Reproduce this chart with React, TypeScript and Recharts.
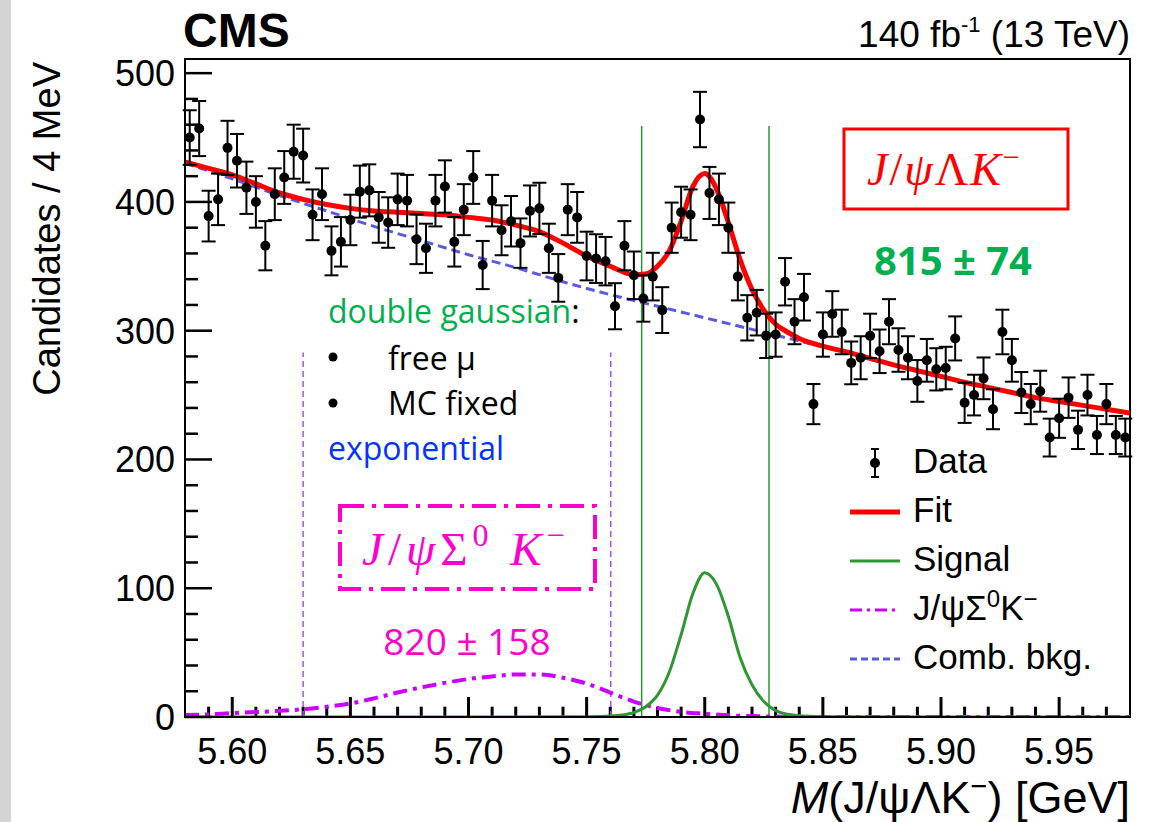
import React from 'react';
import {
  ComposedChart,
  Line,
  Scatter,
  ErrorBar,
  XAxis,
  YAxis,
  ReferenceLine,
  ReferenceArea,
  Legend,
  Customized,
} from 'recharts';

// histogram: 100 bins of 4 MeV from 5.58 GeV
const binLow = 5.58;
const binWidth = 0.004;
const counts = [
  450, 457, 389, 402, 442, 432, 411, 400, 366, 406,
  419, 439, 436, 390, 406, 362, 369, 386, 408, 409,
  388, 384, 402, 401, 371, 364, 401, 412, 369, 394,
  419, 351, 401, 378, 385, 368, 393, 395, 364, 341,
  394, 388, 358, 356, 354, 319, 366, 343, 325, 342,
  316, 380, 392, 390, 464, 407, 402, 380, 342, 310,
  314, 296, 297, 338, 307, 326, 243, 297, 313, 299,
  275, 279, 296, 284, 307, 285, 279, 261, 277, 270,
  271, 294, 244, 250, 263, 239, 299, 277, 252, 243,
  253, 217, 232, 248, 223, 250, 219, 243, 219, 217,
];
const errors = [
  21.2, 21.4, 19.7, 20.0, 21.0, 20.8, 20.3, 20.0, 19.1, 20.1,
  20.5, 21.0, 20.9, 19.7, 20.1, 19.0, 19.2, 19.6, 20.2, 20.2,
  19.7, 19.6, 20.0, 20.0, 19.3, 19.1, 20.0, 20.3, 19.2, 19.8,
  20.5, 18.7, 20.0, 19.4, 19.6, 19.2, 19.8, 19.9, 19.1, 18.5,
  19.8, 19.7, 18.9, 18.9, 18.8, 17.9, 19.1, 18.5, 18.0, 18.5,
  17.8, 19.5, 19.8, 19.7, 21.5, 20.2, 20.0, 19.5, 18.5, 17.6,
  17.7, 17.2, 17.2, 18.4, 17.5, 18.1, 15.6, 17.2, 17.7, 17.3,
  16.6, 16.7, 17.2, 16.9, 17.5, 16.9, 16.7, 16.2, 16.6, 16.4,
  16.5, 17.1, 15.6, 15.8, 16.2, 15.5, 17.3, 16.6, 15.9, 15.6,
  15.9, 14.7, 15.2, 15.7, 14.9, 15.8, 14.8, 15.6, 14.8, 14.7,
];

// total fit
const fitMass = [
  5.58, 5.59, 5.6, 5.61, 5.62, 5.63, 5.64, 5.65, 5.66, 5.67, 5.68, 5.69, 5.7, 5.71, 5.72, 5.73,
  5.74, 5.75, 5.76, 5.765, 5.77, 5.775, 5.78, 5.785, 5.79, 5.795, 5.8, 5.805, 5.81, 5.815, 5.82,
  5.825, 5.83, 5.835, 5.84, 5.85, 5.86, 5.87, 5.88, 5.89, 5.9, 5.91, 5.92, 5.93, 5.94, 5.95,
  5.96, 5.97, 5.98,
];
const fitValues = [
  431, 426, 421, 414, 407, 402, 398, 395, 393, 392, 391, 390, 388, 386, 382, 377,
  368, 358, 350, 346, 343.5, 344, 350, 362, 385, 412, 422, 410, 384, 355, 332,
  316, 305, 299, 294, 288, 283.5, 278.5, 273.5, 269, 264.5, 260, 256, 252, 248, 245,
  242, 239, 236,
];

// signal (double gaussian)
const sigMass = [
  5.58, 5.7, 5.74, 5.75, 5.76, 5.765, 5.77, 5.775, 5.78, 5.785, 5.79, 5.795, 5.8,
  5.805, 5.81, 5.815, 5.82, 5.825, 5.83, 5.835, 5.84, 5.85, 5.86, 5.9, 5.98,
];
const sigValues = [
  0, 0, 0.1, 0.2, 0.7, 1.5, 3.5, 8, 17, 35, 64, 96, 112,
  103, 78, 46, 25, 12, 5, 2.2, 1, 0.3, 0.1, 0, 0,
];

// J/psi Sigma0 K- partially reconstructed
const partMass = [
  5.58, 5.59, 5.6, 5.61, 5.62, 5.63, 5.64, 5.65, 5.66, 5.67, 5.68, 5.69, 5.7, 5.71,
  5.72, 5.73, 5.74, 5.75, 5.76, 5.77, 5.78, 5.79, 5.8, 5.81, 5.82, 5.83, 5.84, 5.9, 5.98,
];
const partValues = [
  1.5, 2, 3, 3.8, 4.8, 6, 8, 10.5, 14.5, 19, 23, 26.5, 29.5, 31.5,
  33, 33, 30.5, 26, 19, 12, 7, 4, 2.5, 1.3, 0.7, 0.3, 0.1, 0, 0,
];

// combinatorial background
const bkgMass = [
  5.58, 5.6, 5.62, 5.64, 5.66, 5.68, 5.7, 5.72, 5.74, 5.76, 5.78,
  5.8, 5.82, 5.84, 5.86, 5.88, 5.9, 5.92, 5.94, 5.96, 5.98,
];
const bkgValues = [
  430, 418, 405, 393, 381, 370, 359, 349, 338, 328, 319,
  310, 301, 292, 283, 273, 264, 256, 248, 242, 236,
];

const xMinorTicks = [
  5.59, 5.61, 5.62, 5.63, 5.64, 5.66, 5.67, 5.68, 5.69, 5.71, 5.72, 5.73, 5.74,
  5.76, 5.77, 5.78, 5.79, 5.81, 5.82, 5.83, 5.84, 5.86, 5.87, 5.88, 5.89,
  5.91, 5.92, 5.93, 5.94, 5.96, 5.97,
];
const xMajorTicks = [5.6, 5.65, 5.7, 5.75, 5.8, 5.85, 5.9, 5.95];
const yTicks = [
  0, 20, 40, 60, 80, 100, 120, 140, 160, 180, 200, 220, 240, 260, 280,
  300, 320, 340, 360, 380, 400, 420, 440, 460, 480, 500,
];
const yMajorLabels = ['0', '100', '200', '300', '400', '500'];

// signal window and partial-reco window
const signalWindow = [5.7733, 5.8272];
const partWindow = [5.63, 5.7602];

const pairs = (xs: number[], ys: number[]) => xs.map((x, i) => ({ x, y: ys[i] }));
const dataPoints = counts.map((c, i) => ({ x: binLow + binWidth * (i + 0.5), y: c, err: errors[i] }));

const SANS = '"Liberation Sans", Arial, Helvetica, sans-serif';
const CAL = '"Open Sans", "Noto Sans", sans-serif';
const SERIF = '"Liberation Serif", "DejaVu Serif", serif';

const RED = '#ff0000';
const GREEN = '#2e9632';
const VIOLET = '#cc00ff';
const BLUE = '#5a5ae0';
const MAGENTA = '#ff00cc';
const INK = '#000';

const XLabel = (props: any) => {
  const { x, y, payload } = props;
  return (
    <text x={x} y={y + 67} textAnchor="middle" fontSize={36} fontFamily={SANS} fill="#000">
      {Number(payload.value).toFixed(2)}
    </text>
  );
};

const YTick = (props: any) => {
  const { x, y, payload } = props;
  const label = String(payload.value);
  const major = yMajorLabels.includes(label);
  return (
    <g>
      <line x1={x} x2={x + (major ? 27 : 13)} y1={y} y2={y} stroke={INK} strokeWidth={2.5} />
      {major && (
        <text x={x - 10} y={y + 13} textAnchor="end" fontSize={36} fontFamily={SANS} fill="#000">
          {label}
        </text>
      )}
    </g>
  );
};

const legendRows = [
  { label: 'Data', kind: 'data' },
  { label: 'Fit', kind: 'line', color: RED, width: 5, dash: undefined },
  { label: 'Signal', kind: 'line', color: GREEN, width: 3, dash: undefined },
  { label: 'psi', kind: 'line', color: VIOLET, width: 3, dash: '12 5 3 5' },
  { label: 'Comb. bkg.', kind: 'line', color: BLUE, width: 3, dash: '7 4' },
];

const LegendBox = () => (
  <svg width={300} height={250}>
    {legendRows.map((r, i) => {
      const base = 33 + i * 49;
      const mid = base - 10;
      return (
        <g key={r.label}>
          {r.kind === 'data' ? (
            <g>
              <line x1={35} x2={35} y1={9} y2={37} stroke="#000" strokeWidth={2} />
              <line x1={31} x2={39} y1={9} y2={9} stroke="#000" strokeWidth={2} />
              <line x1={31} x2={39} y1={37} y2={37} stroke="#000" strokeWidth={2} />
              <circle cx={35} cy={23} r={5} fill="#000" />
            </g>
          ) : (
            <line x1={10} x2={60} y1={mid} y2={mid} stroke={r.color} strokeWidth={r.width} strokeDasharray={r.dash} />
          )}
          <text x={73} y={base} fontSize={35} fontFamily={SANS} fill="#000">
            {r.label === 'psi' ? (
              <>
                J/ψΣ<tspan dy={-13} fontSize={24}>0</tspan>
                <tspan dy={13}>K</tspan>
                <tspan dy={-13} fontSize={24}>−</tspan>
              </>
            ) : (
              r.label
            )}
          </text>
        </g>
      );
    })}
  </svg>
);

const Annotations = () => (
  <g>
    <text x={183} y={47} fontSize={48} fontWeight="bold" fontFamily={SANS} fill="#000">CMS</text>
    <text x={1130} y={47} textAnchor="end" fontSize={37} fontFamily={SANS} fill="#000">
      140 fb<tspan dy={-15} fontSize={22}>-1</tspan>
      <tspan dy={15}> (13 TeV)</tspan>
    </text>
    <text
      x={60}
      y={62}
      transform="rotate(-90 60 62)"
      textAnchor="end"
      fontSize={38}
      fontFamily={SANS}
      fill="#000"
    >
      Candidates / 4 MeV
    </text>
    <text x={1130} y={813} textAnchor="end" fontSize={45} fontFamily={SANS} fill="#000">
      <tspan fontStyle="italic">M</tspan>(J/ψΛK<tspan dy={-17} fontSize={29}>−</tspan>
      <tspan dy={17}>) [GeV]</tspan>
    </text>

    <rect x={844} y={129} width={224} height={80} fill="none" stroke={RED} strokeWidth={3} />
    <text x={867} y={185} fontSize={46} fontFamily={SERIF} fill={RED} letterSpacing={2}>
      <tspan fontStyle="italic">J</tspan>/<tspan fontStyle="italic">ψ</tspan>Λ<tspan fontStyle="italic">K</tspan>
      <tspan dy={-18} fontSize={30}>−</tspan>
    </text>
    <text x={953} y={275} textAnchor="middle" fontSize={40} fontWeight="bold" fontFamily={CAL} fill="#00b050">
      815 ± 74
    </text>

    <text x={328} y={323} fontSize={32} fontFamily={CAL} fill="#00b050">
      double gaussian<tspan fill="#000">:</tspan>
    </text>
    <circle cx={333} cy={357} r={4.5} fill="#000" />
    <text x={388} y={370} fontSize={32} fontFamily={CAL} fill="#000">free μ</text>
    <circle cx={333} cy={403} r={4.5} fill="#000" />
    <text x={388} y={415} fontSize={32} fontFamily={CAL} fill="#000">MC fixed</text>
    <text x={328} y={460} fontSize={32} fontFamily={CAL} fill="#0033ff">exponential</text>

    <rect
      x={340}
      y={506}
      width={255}
      height={83}
      fill="none"
      stroke={MAGENTA}
      strokeWidth={4}
      strokeDasharray="24 8 4 8"
    />
    <text x={362} y={565} fontSize={47} fontFamily={SERIF} fill={MAGENTA} letterSpacing={5}>
      <tspan fontStyle="italic">J</tspan>/<tspan fontStyle="italic">ψ</tspan>Σ
      <tspan dy={-19} fontSize={32}>0</tspan>
      <tspan dy={19} fontStyle="italic"> K</tspan>
      <tspan dy={-19} fontSize={32}>−</tspan>
    </text>
    <text x={467} y={655} textAnchor="middle" fontSize={37} fontFamily={CAL} fill={MAGENTA}>
      820 ± 158
    </text>
  </g>
);

const axisStroke = { stroke: INK, strokeWidth: 2 };

export default function App() {
  return (
    <div style={{ position: 'absolute', left: 0, top: 0, width: 1158, height: 822, background: '#fff' }}>
      <div style={{ position: 'absolute', left: 0, top: 0, width: 11, height: 822, background: '#d4d4d4' }} />
      <ComposedChart width={1158} height={822} margin={{ top: 59, right: 28, bottom: 0, left: 0 }}>
        <XAxis
          dataKey="x"
          type="number"
          domain={[5.58, 5.98]}
          allowDataOverflow
          ticks={xMajorTicks}
          interval={0}
          tick={<XLabel />}
          tickLine={{ stroke: INK, strokeWidth: 3 }}
          tickSize={-20}
          tickMargin={0}
          height={105}
          axisLine={axisStroke}
        />
        <YAxis
          type="number"
          domain={[0, 511]}
          allowDataOverflow
          ticks={yTicks}
          interval={0}
          tick={<YTick />}
          tickLine={false}
          tickSize={0}
          tickMargin={0}
          width={185}
          axisLine={axisStroke}
        />
        <ReferenceArea x1={5.58} x2={5.98} y1={0} y2={511} fill="none" stroke={INK} strokeWidth={2} />
        {xMinorTicks.map((t) => (
          <ReferenceLine
            key={'m' + t}
            segment={[{ x: t, y: 0 }, { x: t, y: 8 }]}
            stroke={INK}
            strokeWidth={3}
          />
        ))}
        {signalWindow.map((m) => (
          <ReferenceLine
            key={'s' + m}
            segment={[{ x: m, y: 0 }, { x: m, y: 459 }]}
            stroke={GREEN}
            strokeWidth={1.5}
          />
        ))}
        {partWindow.map((m) => (
          <ReferenceLine
            key={'p' + m}
            segment={[{ x: m, y: 0 }, { x: m, y: 283 }]}
            stroke="#a64dff"
            strokeWidth={1.5}
            strokeDasharray="6 4"
          />
        ))}
        <Line
          data={pairs(bkgMass, bkgValues)}
          dataKey="y"
          type="monotone"
          stroke={BLUE}
          strokeWidth={3}
          strokeDasharray="9 5"
          dot={false}
          isAnimationActive={false}
        />
        <Line
          data={pairs(partMass, partValues)}
          dataKey="y"
          type="monotone"
          stroke={VIOLET}
          strokeWidth={4}
          strokeDasharray="14 6 4 6"
          dot={false}
          isAnimationActive={false}
        />
        <Line
          data={pairs(sigMass, sigValues)}
          dataKey="y"
          type="monotone"
          stroke={GREEN}
          strokeWidth={3}
          dot={false}
          isAnimationActive={false}
        />
        <Line
          data={pairs(fitMass, fitValues)}
          dataKey="y"
          type="monotone"
          stroke={RED}
          strokeWidth={5}
          dot={false}
          isAnimationActive={false}
        />
        <Scatter
          data={dataPoints}
          dataKey="y"
          fill="#000"
          isAnimationActive={false}
          shape={(p: any) => <circle cx={p.cx} cy={p.cy} r={5} fill="#000" />}
        >
          <ErrorBar dataKey="err" direction="y" width={7} stroke="#000" strokeWidth={2} isAnimationActive={false} />
        </Scatter>
        <Customized component={Annotations} />
        <Legend
          layout="vertical"
          align="center"
          verticalAlign="middle"
          content={() => <LegendBox />}
          wrapperStyle={{ left: 840, top: 440, width: 300, height: 250 }}
        />
      </ComposedChart>
    </div>
  );
}
